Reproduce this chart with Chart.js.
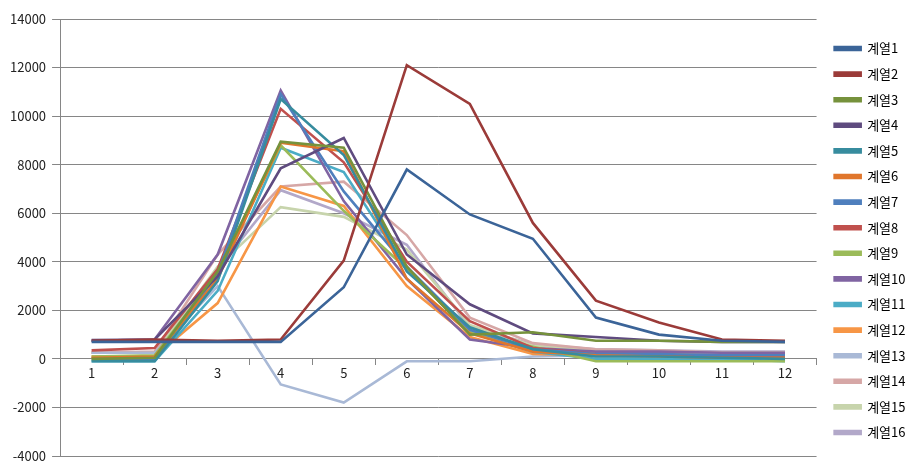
<!DOCTYPE html>
<html><head><meta charset="utf-8">
<script src="https://cdn.jsdelivr.net/npm/chart.js@4/dist/chart.umd.min.js"></script>
<style>html,body{margin:0;padding:0;background:#fff}#wrap{width:922px;height:475px}</style>
</head><body><div id="wrap"><canvas id="c" width="922" height="475"></canvas></div>
<script>
const categories = ['1','2','3','4','5','6','7','8','9','10','11','12'];
const seriesNames = ['계열1','계열2','계열3','계열4','계열5','계열6','계열7','계열8','계열9','계열10','계열11','계열12','계열13','계열14','계열15','계열16'];
const s1 = [700,700,700,700,2950,7800,5950,4950,1700,1000,750,700];
const s2 = [750,800,750,800,4050,12100,10500,5600,2400,1500,800,750];
const s3 = [0,50,3600,8950,8700,3800,1000,1100,750,750,700,700];
const s4 = [780,800,3400,7850,9100,4300,2250,1050,900,750,700,700];
const s5 = [-100,-100,3200,10700,8400,3600,1300,400,100,100,50,0];
const s6 = [50,100,3300,8900,8550,3300,1050,300,150,100,50,50];
const s7 = [0,0,3500,10900,6900,3800,1200,400,200,200,150,150];
const s8 = [350,450,3700,10300,8100,4000,1550,450,200,150,100,100];
const s9 = [100,150,3500,8800,6100,3700,1100,500,-100,-100,-100,-100];
const s10 = [750,800,4300,11050,6500,3300,800,450,300,300,250,250];
const s11 = [-100,-100,2800,8700,7700,3700,1100,300,0,0,0,-100];
const s12 = [100,100,2300,7100,6300,3000,900,200,150,200,150,150];
const s13 = [250,250,3000,-1050,-1800,-100,-100,100,150,200,200,200];
const s14 = [250,300,4300,7100,7300,5100,1700,650,400,350,250,250];
const s15 = [250,250,3800,6250,5850,4500,1400,550,350,300,250,250];
const s16 = [250,250,3700,6950,6000,4700,1300,600,400,350,300,300];
const yTicks = [-4000,-2000,0,2000,4000,6000,8000,10000,12000,14000];
const colors = ['#3b6498','#9b3b39','#76923c','#5f4b7f','#378c9e','#e0762c','#4f7fbd','#c0504d','#9bbb59','#8064a2','#4bacc6','#f79646','#a9b9d6','#d6a7a6','#c7d4ac','#b2a8c9'];
const allSeries = [s1,s2,s3,s4,s5,s6,s7,s8,s9,s10,s11,s12,s13,s14,s15,s16];
const FONT = '"Noto Sans CJK KR", "Noto Sans", sans-serif';
const datasets = allSeries.map((d,i)=>({
  label: seriesNames[i], data: d, borderColor: colors[i], backgroundColor: colors[i],
  borderWidth: 2.6, pointRadius: 0, tension: 0, fill: false
}));
const shiftLegend = {
  id: 'shiftLegend',
  afterUpdate(chart) {
    const lg = chart.legend;
    if (lg) { lg.left += 5.5; lg.right += 5.5; lg.top += 3; lg.bottom += 3; }
  }
};
new Chart(document.getElementById('c'), {
  type: 'line',
  data: { labels: categories, datasets: datasets },
  plugins: [shiftLegend],
  options: {
    responsive: false, animation: false,
    layout: { padding: { top: 19, bottom: 19, left: 4, right: 12 } },
    plugins: {
      tooltip: { enabled: false },
      legend: {
        position: 'right', align: 'center',
        labels: { boxWidth: 26, boxHeight: 3, padding: 12.6, color: '#000',
          font: { family: FONT, size: 13 } }
      }
    },
    scales: {
      x: {
        position: { y: 0 }, offset: true,
        grid: { display: true, drawOnChartArea: false, drawTicks: true, tickLength: 6, color: '#868686', offset: true },
        border: { display: true, color: '#868686', width: 1 },
        ticks: { color: '#222', font: { family: FONT, size: 13 }, padding: 0 }
      },
      y: {
        min: -4000, max: 14000,
        afterBuildTicks: (ax) => { ax.ticks = yTicks.map(v => ({ value: v })); },
        grid: { color: '#868686', lineWidth: 1, tickLength: 8 },
        border: { display: true, color: '#868686' },
        ticks: { color: '#222', font: { family: FONT, size: 13 }, padding: 6,
          callback: (v) => String(v) }
      }
    }
  }
});
</script></body></html>
